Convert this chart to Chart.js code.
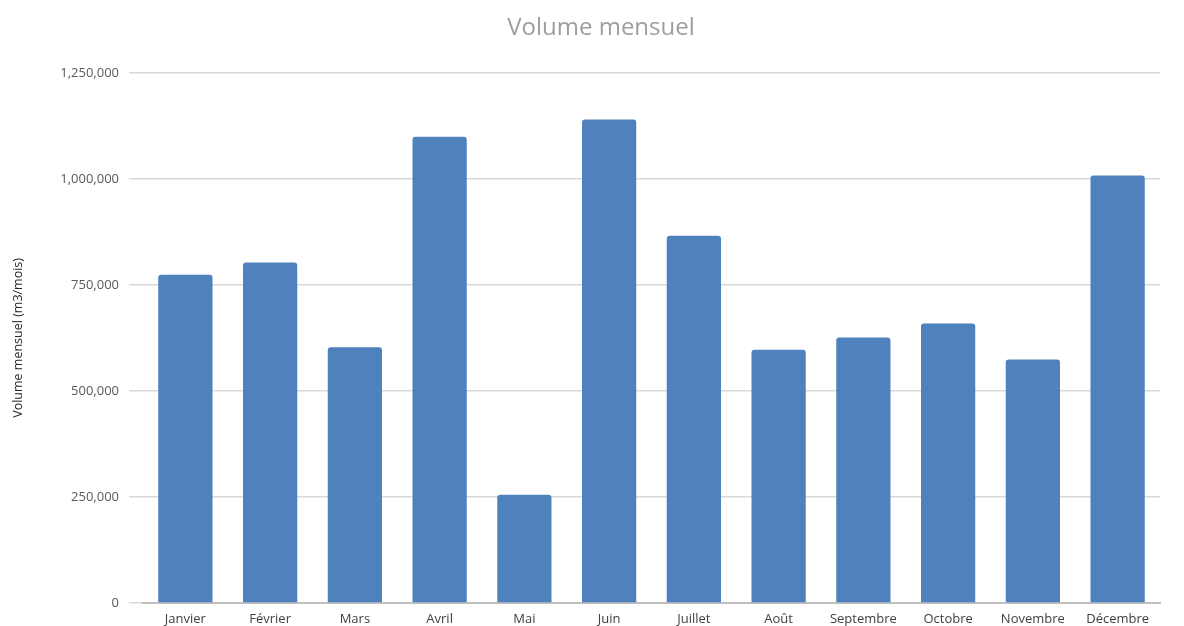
<!DOCTYPE html>
<html>
<head>
<meta charset="utf-8">
<script src="https://cdn.jsdelivr.net/npm/chart.js@4"></script>
<style>
  html, body { margin: 0; padding: 0; background: #fff; }
  #wrap { width: 1184px; height: 626px; }
</style>
</head>
<body>
<div id="wrap"><canvas id="volChart" width="1184" height="626"></canvas></div>
<script>
const mois = ['Janvier', 'Février', 'Mars', 'Avril', 'Mai', 'Juin', 'Juillet', 'Août', 'Septembre', 'Octobre', 'Novembre', 'Décembre'];
const volumes = [774000, 803000, 603000, 1099000, 255000, 1140000, 866000, 597000, 626000, 659000, 574000, 1008000];
const yTicks = [0, 250000, 500000, 750000, 1000000, 1250000];

document.addEventListener('DOMContentLoaded', function() {
    const ctx = document.getElementById('volChart').getContext('2d');

    new Chart(ctx, {
        type: 'bar',
        data: {
            labels: mois,
            datasets: [{
                label: 'Volume mensuel',
                data: volumes,
                backgroundColor: '#4f81bd',
                borderRadius: 3,
                borderSkipped: 'bottom',
                categoryPercentage: 0.64,
                barPercentage: 1
            }]
        },
        options: {
            responsive: false,
            animation: false,
            // left padding shifts the title centre a bit to the right, like the original
            layout: { padding: { left: 18, right: 0, top: 0, bottom: 0 } },
            scales: {
                x: {
                    afterFit: function(scale) { scale.height = 23; },
                    grid: { display: false },
                    border: { display: true, color: '#bfbfbf', width: 2 },
                    ticks: {
                        color: '#404040',
                        font: { family: 'Open Sans', size: 13 },
                        padding: 0,
                        maxRotation: 0,
                        autoSkip: false
                    }
                },
                y: {
                    min: 0,
                    max: yTicks[yTicks.length - 1],
                    afterBuildTicks: function(scale) {
                        scale.ticks = yTicks.map(v => ({ value: v }));
                    },
                    afterFit: function(scale) { scale.width = 125; },
                    grid: { color: '#d9d9d9', lineWidth: 1.5, tickLength: 14 },
                    border: { display: false },
                    ticks: {
                        color: '#595959',
                        font: { family: 'Open Sans', size: 13 },
                        padding: 10,
                        callback: v => v.toLocaleString('en-US')
                    },
                    title: {
                        display: true,
                        text: 'Volume mensuel (m3/mois)',
                        color: '#262626',
                        font: { family: 'Open Sans', size: 12.5 },
                        padding: { top: -7, bottom: 0 }
                    }
                },
                // empty right margin
                yRight: {
                    position: 'right',
                    afterFit: function(scale) { scale.width = 24; },
                    grid: { display: false },
                    border: { display: false },
                    ticks: { display: false }
                }
            },
            plugins: {
                legend: { display: false },
                tooltip: { enabled: false },
                title: {
                    display: true,
                    text: 'Volume mensuel',
                    color: '#9e9e9e',
                    font: { family: 'Open Sans', size: 24, weight: 'normal' },
                    padding: { top: 14, bottom: 30 }
                }
            }
        }
    });
});
</script>
</body>
</html>
